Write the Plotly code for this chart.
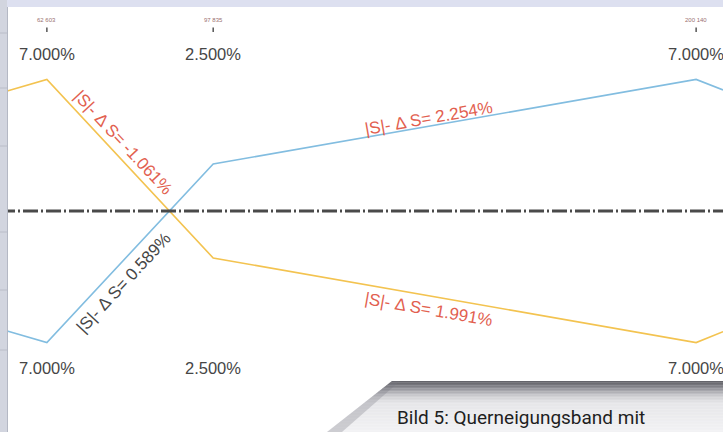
import plotly.graph_objects as go
import math

# ---------------- data ----------------
stations = [62.603, 97.835, 200.140]                 # station positions (m)
station_labels = ["62 603", "97 835", "200 140"]
line_x = [54.2, 62.603, 97.835, 200.140, 205.84]      # incl. partial segments at the edges
yellow_slope = [6.38, 7.0, -2.5, -7.0, -6.42]         # cross slope (%)
blue_slope = [-6.38, -7.0, 2.5, 7.0, 6.44]
top_pct = [7.0, 2.5, 7.0]
bottom_pct = [7.0, 2.5, 7.0]
delta_values = [-1.061, 0.589, 2.254, 1.991]
caption = "Bild 5: Querneigungsband mit"

# ---------------- layout constants ----------------
W, H = 723, 432
PX_PER_M = 4.7206
X_OFF = 248.65
Y0_PX = 211.0
PX_PER_PCT = 18.8

def sx(px):
    return (px + X_OFF) / PX_PER_M

def sy(py):
    return (Y0_PX - py) / PX_PER_PCT

YELLOW = "#f3c350"
BLUE = "#82bde0"
RED = "#e2604f"
GRAY_TXT = "#464646"

fig = go.Figure()
fig.add_trace(go.Scatter(x=line_x, y=yellow_slope, mode="lines",
                         line=dict(color=YELLOW, width=1.6), hoverinfo="skip"))
fig.add_trace(go.Scatter(x=line_x, y=blue_slope, mode="lines",
                         line=dict(color=BLUE, width=1.6), hoverinfo="skip"))

# centre line (dash-dot)
fig.add_hline(y=0, line=dict(color="#4a4a4a", width=3, dash="15px,3px,2px,3px"))

ann = []
for s, lab, tp, bp in zip(stations, station_labels, top_pct, bottom_pct):
    ann.append(dict(x=s, y=sy(20), text=lab, showarrow=False, xanchor="center", yanchor="middle",
                    font=dict(family="Liberation Sans", size=6, color="#9a7070")))
    ann.append(dict(x=s, y=sy(54), text=f"{tp:.3f}%", showarrow=False, xanchor="center", yanchor="middle",
                    font=dict(family="Liberation Sans", size=16.5, color=GRAY_TXT)))
    ann.append(dict(x=s, y=sy(368), text=f"{bp:.3f}%", showarrow=False, xanchor="center", yanchor="middle",
                    font=dict(family="Liberation Sans", size=16.5, color=GRAY_TXT)))
    fig.add_shape(type="line", xref="x", yref="y", x0=s, x1=s, y0=sy(27.5), y1=sy(32),
                  line=dict(color="#555", width=1.5))

# delta labels along segments
steep = math.degrees(math.atan((9.5 * PX_PER_PCT) / ((97.835 - 62.603) * PX_PER_M)))
flat = math.degrees(math.atan((4.5 * PX_PER_PCT) / ((200.140 - 97.835) * PX_PER_M)))
delta_pos = [(123, 142), (123, 283), (428, 118), (428, 309)]
delta_ang = [steep, -steep, -flat, flat]
delta_col = [RED, GRAY_TXT, RED, RED]
for v, (px, py), a, c in zip(delta_values, delta_pos, delta_ang, delta_col):
    ann.append(dict(x=sx(px), y=sy(py), text=f"|S|- Δ S= {v:.3f}%", showarrow=False,
                    xanchor="center", yanchor="middle", textangle=a,
                    font=dict(family="Liberation Sans", size=17, color=c)))

# caption
ann.append(dict(x=395 / W, y=1 - 417 / H, xref="paper", yref="paper", text=caption, showarrow=False,
                xanchor="left", yanchor="middle",
                font=dict(family="Roboto", size=19, color="#1e1e1e")))

shapes = []
# top and left window strips
shapes.append(dict(type="rect", xref="paper", yref="paper", x0=0, x1=1, y0=1 - 7 / H, y1=1,
                   fillcolor="#dde0f0", line=dict(width=0), layer="above"))
shapes.append(dict(type="rect", xref="paper", yref="paper", x0=0, x1=7 / W, y0=0, y1=1,
                   fillcolor="#d2d5df", line=dict(width=0), layer="above"))
shapes.append(dict(type="line", xref="paper", yref="paper", x0=7.5 / W, x1=7.5 / W, y0=0, y1=1 - 7 / H,
                   line=dict(color="#b4b8c4", width=1), layer="above"))
for yy in [33, 88, 146, 232, 290, 350]:
    shapes.append(dict(type="line", xref="paper", yref="paper", x0=0, x1=7 / W, y0=1 - yy / H, y1=1 - yy / H,
                       line=dict(color="#babdc8", width=1), layer="above"))

# caption box with vertical gradient (stacked bands)
def lerp(c1, c2, t):
    return "#%02x%02x%02x" % tuple(int(round(a + (b - a) * t)) for a, b in zip(c1, c2))

stops = [(381, (96, 96, 102)), (385, (118, 118, 124)), (390, (160, 160, 166)),
         (396, (206, 206, 210)), (403, (230, 230, 233)), (432, (242, 242, 244))]
def col_at(y):
    for (y1, c1), (y2, c2) in zip(stops, stops[1:]):
        if y1 <= y <= y2:
            return lerp(c1, c2, (y - y1) / (y2 - y1))
    return lerp(stops[-1][1], stops[-1][1], 0)

def xleft(y):
    return 392 - (y - 381) * (65 / 51)

yb = 381
while yb < 432:
    yt = yb
    ye = min(yb + 1.5, 432)
    c = col_at((yt + ye) / 2)
    x1, x2 = xleft(yt), xleft(ye + 0.3)
    path = "M {:.4f},{:.4f} L {:.4f},{:.4f} L {:.4f},{:.4f} L {:.4f},{:.4f} Z".format(
        x1 / W, 1 - yt / H, 1, 1 - yt / H, 1, 1 - (ye + 0.3) / H, x2 / W, 1 - (ye + 0.3) / H)
    shapes.append(dict(type="path", xref="paper", yref="paper", path=path,
                       fillcolor=c, line=dict(width=0), layer="above"))
    yb = ye
# bevel darkening near diagonal
bev = "M {:.4f},{:.4f} L {:.4f},{:.4f} L {:.4f},{:.4f} L {:.4f},{:.4f} Z".format(
    392 / W, 1 - 381 / H, 400 / W, 1 - 381 / H, 342 / W, 1 - 432 / H, 327 / W, 1 - 432 / H)
shapes.append(dict(type="path", xref="paper", yref="paper", path=bev,
                   fillcolor="rgba(120,120,128,0.3)", line=dict(width=0), layer="above"))

for s in shapes:
    fig.add_shape(**s)

fig.update_layout(
    width=W, height=H, autosize=False,
    margin=dict(l=0, r=0, t=0, b=0),
    paper_bgcolor="white", plot_bgcolor="white",
    showlegend=False,
    xaxis=dict(range=[sx(0), sx(W)], visible=False, fixedrange=True),
    yaxis=dict(range=[sy(H), sy(0)], visible=False, fixedrange=True),
    annotations=ann,
)

fig.write_html("out.html", config={"displayModeBar": False},
               post_script="document.body.style.margin='0px';document.body.style.overflow='hidden';")
